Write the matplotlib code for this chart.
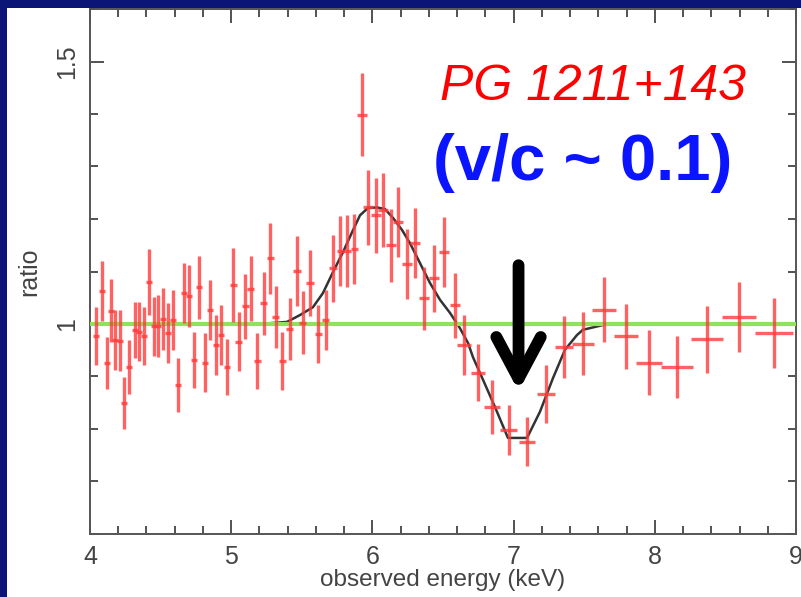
import matplotlib
matplotlib.use("Agg")
import matplotlib.pyplot as plt
from matplotlib.patches import Rectangle
import matplotlib.ticker as ticker

# ---- data: ratio points (energy, ratio) with errors ----
energy = [4.042, 4.085, 4.120, 4.149, 4.177, 4.212, 4.241, 4.276, 4.319, 4.347,
          4.382, 4.418, 4.453, 4.482, 4.517, 4.552, 4.588, 4.623, 4.666, 4.701,
          4.737, 4.772, 4.814, 4.850, 4.892, 4.928, 4.970, 5.013, 5.055, 5.098,
          5.140, 5.183, 5.232, 5.275, 5.317, 5.360, 5.416, 5.466, 5.508, 5.558,
          5.615, 5.671, 5.721, 5.771, 5.820, 5.870, 5.926, 5.969, 6.025, 6.075,
          6.132, 6.181, 6.245, 6.302, 6.365, 6.436, 6.507, 6.585, 6.649, 6.748,
          6.847, 6.967, 7.095, 7.229, 7.357, 7.491, 7.640, 7.796, 7.959, 8.157,
          8.370, 8.596, 8.844]
energy_err = [0.022, 0.022, 0.022, 0.022, 0.022, 0.022, 0.022, 0.022, 0.022, 0.022,
              0.022, 0.022, 0.022, 0.022, 0.022, 0.022, 0.022, 0.022, 0.022, 0.022,
              0.022, 0.022, 0.022, 0.022, 0.022, 0.022, 0.022, 0.025, 0.025, 0.025,
              0.025, 0.025, 0.025, 0.025, 0.025, 0.025, 0.025, 0.025, 0.025, 0.025,
              0.025, 0.025, 0.025, 0.025, 0.025, 0.025, 0.035, 0.035, 0.035, 0.035,
              0.035, 0.035, 0.035, 0.035, 0.035, 0.035, 0.035, 0.035, 0.050, 0.050,
              0.055, 0.060, 0.060, 0.065, 0.065, 0.078, 0.085, 0.085, 0.089, 0.110,
              0.113, 0.120, 0.135]
ratio = [0.977, 1.063, 0.926, 1.025, 0.970, 0.968, 0.850, 0.918, 0.989, 0.985,
         0.977, 1.080, 0.996, 0.996, 1.010, 0.983, 1.008, 0.884, 1.059, 1.053,
         0.932, 1.070, 0.926, 1.027, 0.960, 0.979, 0.918, 1.074, 0.966, 1.034,
         1.067, 0.930, 1.040, 1.125, 1.013, 0.930, 0.990, 1.101, 1.002, 1.078,
         0.981, 1.008, 1.106, 1.139, 1.139, 1.143, 1.399, 1.222, 1.207, 1.217,
         1.150, 1.194, 1.114, 1.154, 1.049, 1.087, 1.137, 1.036, 0.960, 0.907,
         0.842, 0.798, 0.776, 0.867, 0.956, 0.962, 1.027, 0.977, 0.926, 0.918,
         0.971, 1.013, 0.983]
ratio_err = [0.055, 0.057, 0.050, 0.060, 0.057, 0.058, 0.050, 0.052, 0.053, 0.056,
             0.055, 0.062, 0.056, 0.059, 0.059, 0.057, 0.057, 0.052, 0.058, 0.059,
             0.053, 0.060, 0.056, 0.057, 0.057, 0.057, 0.053, 0.070, 0.056, 0.062,
             0.062, 0.053, 0.060, 0.067, 0.059, 0.055, 0.059, 0.067, 0.060, 0.062,
             0.055, 0.057, 0.064, 0.066, 0.068, 0.067, 0.079, 0.071, 0.072, 0.070,
             0.070, 0.067, 0.066, 0.067, 0.060, 0.064, 0.067, 0.062, 0.058, 0.054,
             0.051, 0.048, 0.047, 0.055, 0.059, 0.060, 0.062, 0.062, 0.062, 0.059,
             0.064, 0.067, 0.067]

# ---- model curve (emission + absorption) ----
model_e = [5.20, 5.395, 5.487, 5.579, 5.650, 5.721, 5.792, 5.863, 5.912, 5.969,
           6.033, 6.089, 6.146, 6.210, 6.266, 6.337, 6.408, 6.479, 6.550, 6.620,
           6.677, 6.712, 6.783, 6.868, 6.960, 7.095, 7.187, 7.279, 7.364, 7.449,
           7.491, 7.633, 7.75]
model_r = [1.000, 1.004, 1.017, 1.032, 1.059, 1.099, 1.137, 1.179, 1.207, 1.221,
           1.222, 1.219, 1.202, 1.179, 1.154, 1.116, 1.078, 1.046, 1.021, 0.992,
           0.964, 0.937, 0.894, 0.842, 0.783, 0.783, 0.833, 0.897, 0.951, 0.979,
           0.989, 0.998, 1.000]

x_ticks = [4, 5, 6, 7, 8, 9]
y_ticks = [1, 1.5]
y_ticklabels = ['1', '1.5']

navy = '#0b1577'
grey = '#444444'

fig = plt.figure(figsize=(8.01, 5.97), dpi=100, facecolor=navy)
# white slide panel behind the plot
panel = Rectangle((7/801, 0), 1 - 7/801, 1 - 8/597, transform=fig.transFigure,
                  facecolor='white', edgecolor='none', zorder=-10)
fig.add_artist(panel)

ax = fig.add_axes([90/801, 1 - 534/597, 706/801, 525/597])
ax.set_facecolor('white')

ax.plot(model_e, model_r, color='#333333', lw=1.8, zorder=3)
ax.axhline(1.0, color='#8fe35c', lw=3, zorder=4)
ax.errorbar(energy, ratio, xerr=energy_err, yerr=ratio_err, fmt='none',
            ecolor='#ff3b3b', elinewidth=2.4, alpha=0.8, capsize=0, zorder=5)

# arrow marking the absorption line
ax.annotate('', xy=(7.035, 0.872), xytext=(7.035, 1.112),
            arrowprops=dict(arrowstyle='->,head_length=3.0,head_width=1.6',
                            color='black', lw=8.5, capstyle='round',
                            joinstyle='round', shrinkA=0, shrinkB=0),
            zorder=6)

ax.text(0.713, 0.827, 'PG 1211+143', transform=ax.transAxes, color='#ff0000',
        fontsize=36, style='italic', family='Liberation Sans',
        ha='center', va='baseline', zorder=7)
ax.text(0.698, 0.674, '(v/c ~ 0.1)', transform=ax.transAxes, color='#0a14ff',
        fontsize=47, weight='bold', family='Liberation Sans',
        ha='center', va='baseline', zorder=7)

ax.set_xlim(4, 9)
ax.set_ylim(0.6, 1.6)
ax.xaxis.set_major_locator(ticker.FixedLocator(x_ticks))
ax.xaxis.set_minor_locator(ticker.MultipleLocator(0.2))
ax.yaxis.set_major_locator(ticker.FixedLocator(y_ticks))
ax.yaxis.set_major_formatter(ticker.FixedFormatter(y_ticklabels))
ax.yaxis.set_minor_locator(ticker.MultipleLocator(0.1))

ax.tick_params(which='both', direction='in', top=True, right=True,
               color=grey, labelcolor=grey, labelsize=18)
ax.tick_params(which='major', length=10, width=1.3, pad=8)
ax.tick_params(which='minor', length=6, width=1.3)
for lab in ax.get_xticklabels() + ax.get_yticklabels():
    lab.set_family('Liberation Sans')
for lab in ax.get_yticklabels():
    lab.set_rotation(90)
    lab.set_va('center')

for s in ax.spines.values():
    s.set_color('#555555')
    s.set_linewidth(1.4)

ax.set_xlabel('observed energy (keV)', fontsize=17.5, color=grey,
              family='Liberation Sans', labelpad=0)
ax.set_ylabel('ratio', fontsize=18, color=grey, family='Liberation Sans',
              labelpad=10)

fig.savefig('out.png', dpi=100, facecolor=navy)
